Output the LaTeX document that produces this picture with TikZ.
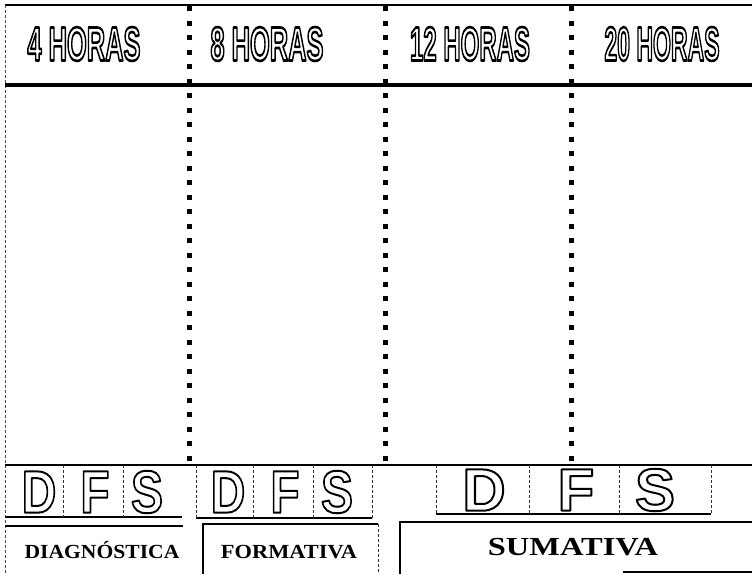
\documentclass[tikz,border=0pt]{standalone}
\usepackage{fontspec}
\setmainfont{Liberation Serif}
\newfontfamily\hfont{Liberation Sans}
\newcommand{\olt}[3]{\scalebox{#1}[1]{\special{pdf:literal direct #2 w 1 j 1 Tr}#3\special{pdf:literal direct 0 Tr}}}
\tikzset{
  thinline/.style={line width=1.2pt},
  sepline/.style={line width=0.7pt, densely dashed, black!80},
  dotline/.style={line width=5pt, dash pattern=on 5pt off 9.5pt},
  hdr/.style={font=\hfont\bfseries\fontsize{48}{48}\selectfont, inner sep=0pt},
  dfs/.style={font=\hfont\bfseries\fontsize{60}{60}\selectfont, inner sep=0pt},
  lbl/.style={font=\bfseries\fontsize{20}{20}\selectfont, inner sep=0pt, anchor=base},
}
\begin{document}
\begin{tikzpicture}[x=1pt,y=-1pt]
\fill[white] (0,0) rectangle (752,574);
\useasboundingbox (0,0) rectangle (752,574);
% frame lines
\draw[thinline] (5,5) -- (752,5);
\draw[line width=0.8pt, black!70, densely dashed] (5,5) -- (5,574);
\draw[line width=4.5pt] (5,85) -- (752,85);
% dotted columns
\foreach \x in {189,385,571} \draw[dotline] (\x,6) -- (\x,468);
% headers
\node[hdr] (h1) at (84,44) {\olt{0.53}{2.6}{4 HORAS}};
\node[hdr] (h2) at (267,44) {\olt{0.53}{2.6}{8 HORAS}};
\node[hdr] (h3) at (470,44) {\olt{0.50}{2.6}{12 HORAS}};
\node[hdr] (h4) at (662,44) {\olt{0.48}{2.6}{20 HORAS}};
% DFS row
\draw[thinline] (5,465) -- (752,465);
\draw[thinline] (5,517) -- (182,517);
\draw[thinline] (196,518) -- (372,518);
\draw[thinline] (436,514) -- (711,514);
\foreach \x in {63,123} \draw[sepline] (\x,465) -- (\x,517);
\foreach \x in {196,253,313,372} \draw[sepline] (\x,465) -- (\x,518);
\foreach \x in {436,529,619,711} \draw[sepline] (\x,465) -- (\x,514);
\node[dfs] (d1) at (39,492) {\olt{0.8}{2}{D}};
\node[dfs] (f1) at (95,492) {\olt{0.8}{2}{F}};
\node[dfs] (s1) at (147,492) {\olt{0.8}{2}{S}};
\node[dfs] (d2) at (228,492) {\olt{0.8}{2}{D}};
\node[dfs] (f2) at (285,492) {\olt{0.8}{2}{F}};
\node[dfs] (s2) at (337,492) {\olt{0.8}{2}{S}};
\node[dfs] (d3) at (484,490) {\olt{1.0}{2}{D}};
\node[dfs] (f3) at (576,490) {\olt{1.0}{2}{F}};
\node[dfs] (s3) at (655,490) {\olt{1.0}{2}{S}};
% label boxes
\draw[thinline] (5,526) -- (183,526);
\draw[thinline] (203,574) -- (203,524) -- (378,524);
\draw[sepline] (378,524) -- (378,574);
\draw[thinline] (400,574) -- (400,522) -- (752,522);
\draw[thinline] (623,572) -- (752,572);
\node[lbl] (l1) at (102,558) {\scalebox{1.08}[1]{DIAGNÓSTICA}};
\node[lbl] (l2) at (289,558) {\scalebox{1.12}[1]{FORMATIVA}};
\node[lbl, font=\bfseries\fontsize{26}{26}\selectfont] (l3) at (573,555) {\scalebox{1.25}[1]{SUMATIVA}};
\end{tikzpicture}
\end{document}
